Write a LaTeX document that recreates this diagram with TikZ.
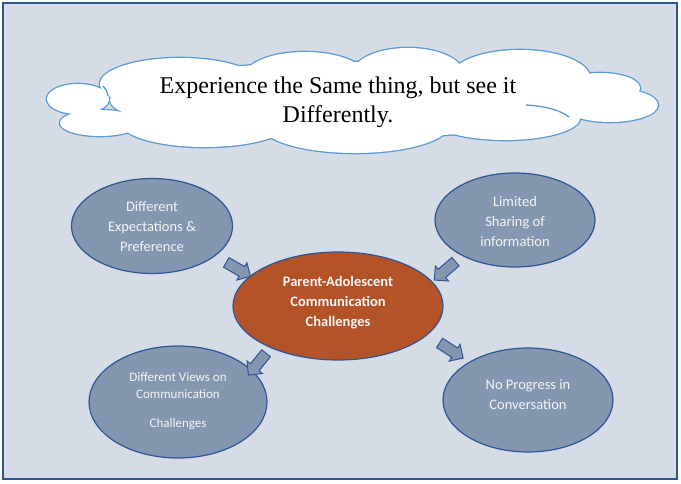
\documentclass[tikz,border=0pt]{standalone}
\usepackage{fontspec}
\setmainfont{Carlito}
\newfontfamily\timesf{Liberation Serif}
\usetikzlibrary{shapes.geometric,shapes.arrows}
\definecolor{bgc}{HTML}{D6DCE5}
\definecolor{framec}{HTML}{2F5597}
\definecolor{ellfill}{HTML}{8497B0}
\definecolor{ellline}{HTML}{2F5597}
\definecolor{ctrfill}{HTML}{B45328}
\definecolor{cloudline}{HTML}{5B9BD5}
\definecolor{txtc}{HTML}{F4F4F4}
\tikzset{
  bubble/.style={ellipse, draw=ellline, fill=ellfill, line width=1.2pt, inner sep=0pt},
  centerbubble/.style={ellipse, draw=ellline, fill=ctrfill, line width=1.2pt, inner sep=0pt},
  etext/.style={text=txtc, align=center, font=\fontsize{14.5pt}{20pt}\selectfont},
  blockarrow/.style={single arrow, draw=ellline, fill=ellfill, line width=1pt,
    minimum height=28pt, minimum width=20pt, single arrow head extend=4pt, inner sep=4.5pt},
  lobe/.style={draw=cloudline, line width=2.6pt},
  lobefill/.style={fill=white},
  innerarc/.style={draw=cloudline, line width=1.3pt}
}
\begin{document}
\begin{tikzpicture}[x=1pt,y=-1pt]
\useasboundingbox (0,0) rectangle (681,483);
\fill[white] (0,0) rectangle (681,483);
\draw[framec, fill=bgc, line width=2pt] (3,3) rectangle (677,479);

% cloud: union of lobes
\foreach \cx/\cy/\rx/\ry in {78/99/31/15, 100/123/40/13, 180/84/80/26, 305/76/60/24, 408/73/55/25,
  520/78/70/28, 610/105/48/17, 600/88/40/15, 505/118/75/22, 355/124/95/29, 205/122/85/25, 350/100/240/38}{
  \draw[lobe] (\cx,\cy) ellipse [x radius=\rx pt, y radius=\ry pt];
}
\foreach \cx/\cy/\rx/\ry in {78/99/31/15, 100/123/40/13, 180/84/80/26, 305/76/60/24, 408/73/55/25,
  520/78/70/28, 610/105/48/17, 600/88/40/15, 505/118/75/22, 355/124/95/29, 205/122/85/25, 350/100/240/38}{
  \fill[lobefill] (\cx,\cy) ellipse [x radius=\rx pt, y radius=\ry pt];
}
% small inner arcs of the cloud
\coordinate (ia1s) at (526,105);
\coordinate (ia1e) at (569,117);
\draw[innerarc] (ia1s) .. controls (545,106) and (560,110) .. (ia1e);
\coordinate (ia2s) at (103,86);
\coordinate (ia2e) at (108,96);
\draw[innerarc] (ia2s) .. controls (106,89) .. (ia2e);

\node[align=center, font=\timesf\fontsize{24pt}{29pt}\selectfont] (cloudtext) at (338,102)
  {Experience the Same thing, but see it\\Differently.};

% ellipses
\node[bubble, minimum width=161pt, minimum height=95pt] (tl) at (152,226) {};
\node[bubble, minimum width=160pt, minimum height=94pt] (tr) at (515,220) {};
\node[centerbubble, minimum width=210pt, minimum height=108pt] (ctr) at (338,306) {};
\node[bubble, minimum width=178pt, minimum height=112pt] (bl) at (178,402) {};
\node[bubble, minimum width=170pt, minimum height=104pt] (br) at (528,400) {};

\node[etext] (tlt) at ([yshift=-1pt]tl.center) {Different\\Expectations \&\\Preference};
\node[etext] (trt) at ([yshift=-2pt]tr.center) {Limited\\Sharing of\\information};
\node[etext, font=\bfseries\fontsize{14.5pt}{20pt}\selectfont] (ctrt) at ([yshift=3.5pt]ctr.center)
  {Parent-Adolescent\\Communication\\Challenges};
\node[etext, font=\fontsize{13pt}{17pt}\selectfont] (blt) at ([yshift=1pt]bl.center)
  {Different Views on\\Communication\\[12pt]Challenges};
\node[etext] (brt) at ([yshift=5pt]br.center) {No Progress in\\Conversation};

% block arrows
\node[blockarrow, rotate=-30] (a1) at (236,268) {};
\node[blockarrow, rotate=-139] (a2) at (447,269) {};
\node[blockarrow, rotate=-129] (a3) at (259,362) {};
\node[blockarrow, rotate=-33] (a4) at (449,349) {};
\end{tikzpicture}
\end{document}
